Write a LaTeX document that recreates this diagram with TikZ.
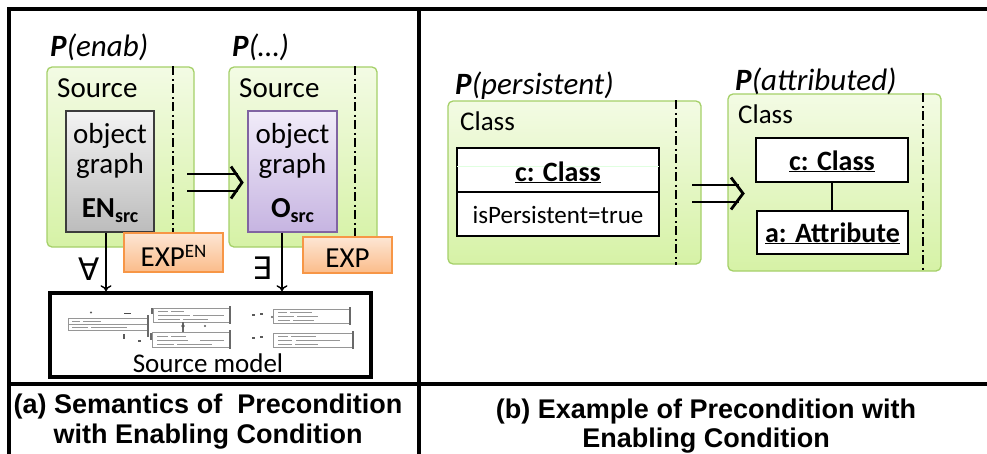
\documentclass[tikz,border=0pt]{standalone}
\usepackage{fontspec}
\setmainfont{Carlito}
\newfontfamily\capfont{Liberation Sans}
\newfontfamily\symfont{DejaVu Sans}
\usetikzlibrary{arrows.meta,calc}

\newcommand\fsz[1]{\fontsize{#1}{#1}\selectfont}

\definecolor{greentop}{RGB}{243,251,228}
\definecolor{greenbot}{RGB}{214,242,166}
\definecolor{greenedge}{RGB}{165,208,105}
\definecolor{graytop}{RGB}{243,243,243}
\definecolor{graybot}{RGB}{188,188,188}
\definecolor{grayedge}{RGB}{60,60,60}
\definecolor{purpletop}{RGB}{241,236,249}
\definecolor{purplebot}{RGB}{198,180,225}
\definecolor{purpleedge}{RGB}{128,100,162}
\definecolor{orangetop}{RGB}{253,230,212}
\definecolor{orangebot}{RGB}{251,188,138}
\definecolor{orangeedge}{RGB}{247,150,70}
\definecolor{thumb}{RGB}{150,150,150}

\tikzset{
  frameline/.style={line width=4pt, line cap=rect},
  pane/.style={draw=greenedge, line width=1.3pt, rounded corners=5pt,
    top color=greentop, bottom color=greenbot, inner sep=0pt},
  graphbox/.style={draw=grayedge, line width=1.4pt, top color=graytop,
    bottom color=graybot, inner sep=0pt},
  objbox/.style={draw=purpleedge, line width=1.4pt, top color=purpletop,
    bottom color=purplebot, inner sep=0pt},
  expbox/.style={draw=orangeedge, line width=1.3pt, top color=orangetop,
    bottom color=orangebot, inner sep=0pt},
  umlbox/.style={draw=black, line width=1.2pt, fill=white, inner sep=0pt},
  modelbox/.style={draw=black, line width=3.5pt, fill=white, inner sep=0pt},
  sepline/.style={line width=1.9pt, dash pattern=on 9pt off 3.5pt on 2pt off 3.5pt},
  txt/.style={inner sep=0pt, anchor=base, font=\fsz{29}},
  txtw/.style={inner sep=0pt, anchor=base west},
  plabel/.style={inner sep=0pt, anchor=base west, font=\fsz{31}},
  caption/.style={inner sep=0pt, anchor=base, font=\capfont\bfseries\fsz{27}},
  quant/.style={inner sep=0pt, font=\symfont\fsz{31}},
  implies/.style={line width=2.8pt},
  impliestip/.style={line width=2.8pt, miter limit=10},
  flow/.style={line width=1.4pt, -{To[length=6pt,width=11pt]}},
  squiggle/.style={thumb, line width=1pt},
  thumbbox/.style={draw=thumb, line width=1pt},
}

\begin{document}
\begin{tikzpicture}[x=1pt,y=-1pt]
\useasboundingbox (0,0) rectangle (987,453);
\fill[white] (0,0) rectangle (987,453);

% ---------- panel (a): containers ----------
\node[pane, minimum width=147pt, minimum height=180pt] (g1) at (120.5,157) {};
\node[pane, minimum width=148pt, minimum height=180pt] (g2) at (303,157) {};
\draw[sepline] ($(g1.north east)+(-22,0)$) -- ($(g1.south east)+(-22,0)$);
\draw[sepline] ($(g2.north east)+(-23,0)$) -- ($(g2.south east)+(-23,0)$);

\node[plabel] (p1) at (50,56) {\textbf{\textit{P}}\textit{(enab)}};
\node[plabel] (p2) at (232,56) {\textbf{\textit{P}}\textit{(…)}};
\node[txtw, font=\fsz{29}] (s1) at (57,97) {Source};
\node[txtw, font=\fsz{29}] (s2) at (239,97) {Source};

\node[graphbox, minimum width=88pt, minimum height=121pt] (en) at (110,171.5) {};
\node[objbox, minimum width=89pt, minimum height=121pt] (os) at (292.5,171.5) {};

\node[txt] (en1) at (110,143) {object};
\node[txt] (en2) at (110,173) {graph};
\node[txt] (en3) at (110,217) {\textbf{EN}\raisebox{-5pt}{\fsz{20}\textbf{src}}};
\node[txt] (os1) at (292.5,143) {object};
\node[txt] (os2) at (292.5,173) {graph};
\node[txt] (os3) at (292.5,217) {\textbf{O}\raisebox{-5pt}{\fsz{20}\textbf{src}}};

\node[expbox, minimum width=99pt, minimum height=39pt] (x1) at (173.5,252.5) {};
\node[expbox, minimum width=89pt, minimum height=36pt] (x2) at (347.5,255) {};
\node[txt] (x1t) at (173.5,266) {EXP\raisebox{9pt}{\fsz{19}EN}};
\node[txt] (x2t) at (347.5,267) {EXP};

% implication between the two patterns
\coordinate (ia) at (187,182.5);
\coordinate (ib) at (242,182.5);
\draw[implies] ($(ia)+(0,-8.5)$) -- ($(ib)+(-4,-8.5)$);
\draw[implies] ($(ia)+(0,8.5)$) -- ($(ib)+(-4,8.5)$);
\draw[impliestip] ($(ib)+(-11,-16)$) -- (ib) -- ($(ib)+(-11,16)$);

% source model with its thumbnail object diagram
\node[modelbox, minimum width=321pt, minimum height=84pt] (sm) at (210.5,335) {};
\node[txt, font=\fsz{27}] (smt) at (208,372) {Source model};

\begin{scope}
  \draw[thumbbox] (68,318) rectangle (147,330);
  \draw[thumbbox] (68,324) -- (147,324);
  \draw[line width=2pt, thumb!70!black] (148,315) -- (148,337);
  \draw[squiggle] (72,321.5) -- (80,321.5) (83,321.5) -- (101,321.5);
  \draw[squiggle] (72,327.5) -- (88,327.5) (91,327.5) -- (127,327.5);
  \fill[thumb!60!black] (91,312.5) circle (1.2);
  \draw[thumb!50!black, line width=1.5pt] (124,313.5) -- (131,313.5);
  \draw[thumb!60!black, line width=1.5pt] (124,334) -- (124,339);
  \draw[thumb!60!black, line width=1.2pt] (138,341) -- (141,341);

  \draw[thumbbox] (153,308) rectangle (230,322);
  \draw[line width=1.8pt, thumb!70!black] (230,306) -- (230,324);
  \draw[squiggle] (158,311.5) -- (168,311.5) (171,311.5) -- (184,311.5);
  \draw[squiggle] (158,315.5) -- (190,315.5) (193,315.5) -- (224,315.5);
  \draw[squiggle] (158,319.5) -- (180,319.5) (183,319.5) -- (208,319.5);
  \draw[line width=1.8pt, thumb!70!black] (152,308) -- (152,314);

  \draw[thumbbox] (152,332) rectangle (230,347);
  \draw[line width=1.8pt, thumb!70!black] (230,330) -- (230,349);
  \draw[squiggle] (157,336) -- (168,336) (171,336) -- (186,336);
  \draw[squiggle] (157,340) -- (188,340) (200,340) -- (224,340);
  \draw[squiggle] (157,344) -- (174,344) (177,344) -- (212,344);
  \draw[line width=1.8pt, thumb!70!black] (151,333) -- (151,340);

  \draw[thumb!70!black, line width=1.5pt] (183,322) -- (183,332);
  \fill[thumb!60!black] (183,326) circle (1.8);
  \fill[thumb!60!black] (205,326) circle (1.2);

  \draw[thumbbox] (273,309) rectangle (350,323);
  \draw[line width=1.8pt, thumb!70!black] (350,307) -- (350,325);
  \draw[squiggle] (278,312.5) -- (287,312.5) (290,312.5) -- (312,312.5);
  \draw[squiggle] (278,316.5) -- (294,316.5) (297,316.5) -- (318,316.5);
  \draw[squiggle] (278,320.5) -- (290,320.5) (293,320.5) -- (314,320.5);

  \draw[thumbbox] (273,333) rectangle (353,347);
  \draw[line width=1.8pt, thumb!70!black] (353,331) -- (353,349);
  \draw[squiggle] (278,336.5) -- (288,336.5) (291,336.5) -- (316,336.5);
  \draw[squiggle] (278,340.5) -- (292,340.5) (296,340.5) -- (340,340.5);
  \draw[squiggle] (278,344.5) -- (292,344.5) (295,344.5) -- (318,344.5);

  \draw[thumb!60!black, line width=1.3pt] (252,315) -- (255,315) (260,314) -- (263,314);
  \draw[thumb!60!black, line width=1.3pt] (252,338) -- (255,338) (260,337) -- (263,337);
  \fill[thumb!60!black] (272,317) circle (1.2);
\end{scope}

% quantified mappings into the source model
\draw[flow] ($(en.south)+(-4,0)$) -- ($(sm.north)+(-104.5,0)$);
\draw[flow] ($(os.south)+(-10.5,0)$) -- ($(sm.north)+(71.5,0)$);
\node[quant] (fa) at (89,269) {∀};
\node[quant] (ex) at (262,268) {∃};

% ---------- panel (b) ----------
\node[pane, minimum width=253pt, minimum height=163pt] (g3) at (574.5,182.5) {};
\node[pane, minimum width=213pt, minimum height=177pt] (g4) at (834.5,182.5) {};
\draw[sepline] ($(g3.north east)+(-26,0)$) -- ($(g3.south east)+(-26,0)$);
\draw[sepline] ($(g4.north east)+(-19,0)$) -- ($(g4.south east)+(-19,0)$);

\node[plabel] (p3) at (455,94) {\textbf{\textit{P}}\textit{(persistent)}};
\node[plabel] (p4) at (735,90) {\textbf{\textit{P}}\textit{(attributed)}};
\node[txtw, font=\fsz{27}] (c3) at (460,130) {Class};
\node[txtw, font=\fsz{27}] (c4) at (738,123) {Class};

\node[umlbox, minimum width=202pt, minimum height=44pt] (uc) at (558,170) {};
\node[umlbox, minimum width=202pt, minimum height=44pt] (ua) at (558,214) {};
\draw[green!12!white, line width=0.8pt] ($(uc.west)+(1,-4)$) -- ($(uc.east)+(-1,-4)$);
\node[txt, font=\fsz{28}] (uct) at (558,181) {\underline{\textbf{c: Class}}};
\node[txt, font=\fsz{25}] (uat) at (558,223) {isPersistent=true};

\node[umlbox, minimum width=152pt, minimum height=44pt] (cc) at (832,160) {};
\node[umlbox, minimum width=151pt, minimum height=43pt] (aa) at (832.5,232.5) {};
\node[txt, font=\fsz{28}] (cct) at (832,170) {\underline{\textbf{c: Class}}};
\node[txt, font=\fsz{28}] (aat) at (832.5,242) {\underline{\textbf{a: Attribute}}};
\draw[line width=1.2pt] (cc.south) -- (cc.south |- aa.north);

\coordinate (ic) at (692,193.5);
\coordinate (id) at (743,193.5);
\draw[implies] ($(ic)+(0,-8.5)$) -- ($(id)+(-4,-8.5)$);
\draw[implies] ($(ic)+(0,8.5)$) -- ($(id)+(-4,8.5)$);
\draw[impliestip] ($(id)+(-12,-16)$) -- (id) -- ($(id)+(-12,16)$);

% ---------- frame and captions ----------
\draw[frameline] (9,453) -- (9,8.5) -- (990,8.5);
\draw[frameline] (419,8.5) -- (419,460);
\draw[frameline] (9,384) -- (990,384);

\node[caption] (ca1) at (208,413) {(a) Semantics of \ Precondition};
\node[caption] (ca2) at (208,443) {with Enabling Condition};
\node[caption] (cb1) at (706,418) {(b) Example of Precondition with};
\node[caption] (cb2) at (706,447) {Enabling Condition};
\end{tikzpicture}
\end{document}
